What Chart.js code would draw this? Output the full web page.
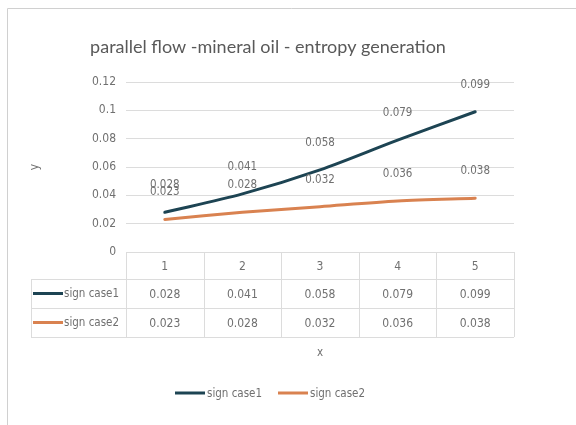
<!DOCTYPE html>
<html>
<head>
<meta charset="utf-8">
<script src="https://cdn.jsdelivr.net/npm/chart.js@4/dist/chart.umd.min.js"></script>
<style>
  html, body { margin: 0; padding: 0; background: #fff; }
  #wrap { width: 576px; height: 425px; position: relative; }
</style>
</head>
<body>
<div id="wrap"><canvas id="c" width="576" height="425"></canvas></div>
<script>
// Entropy generation for parallel flow with mineral oil
const categories = ['1', '2', '3', '4', '5'];
const seriesNames = ['sign case1', 'sign case2'];
const case1 = [0.028, 0.041, 0.058, 0.079, 0.099];
const case2 = [0.023, 0.028, 0.032, 0.036, 0.038];
const yTicks = [0, 0.02, 0.04, 0.06, 0.08, 0.1, 0.12];

const titleText = 'parallel flow -mineral oil - entropy generation';
const colors = ['#1d4453', '#d98250'];
const textColor = '#707070';
const gridColor = '#dcdcdc';
const narrow = '"DejaVu Sans Condensed", "Liberation Sans Narrow", sans-serif';

// Title, data labels, data table and legend drawn around the plot area
const decorations = {
  id: 'decorations',
  afterDatasetsDraw(chart) {
    const ctx = chart.ctx;
    const area = chart.chartArea;
    const xs = chart.scales.x;
    ctx.save();

    // title
    ctx.fillStyle = '#595959';
    ctx.font = '18px Lato, "Open Sans", sans-serif';
    ctx.textAlign = 'center';
    ctx.textBaseline = 'middle';
    ctx.fillText(titleText, 268, 47);

    // value labels above each point
    ctx.font = '11.5px ' + narrow;
    ctx.fillStyle = textColor;
    chart.data.datasets.forEach((ds, di) => {
      const meta = chart.getDatasetMeta(di);
      meta.data.forEach((pt, i) => {
        ctx.fillText(String(ds.data[i]), pt.x, pt.y - 27);
      });
    });

    // data table
    const colW = (area.right - area.left) / categories.length;
    const leftEdge = 31;
    const rowY = [area.bottom, area.bottom + 27, area.bottom + 56, area.bottom + 85];
    ctx.strokeStyle = gridColor;
    ctx.lineWidth = 1;
    ctx.beginPath();
    ctx.moveTo(area.left, rowY[0] + 0.5); ctx.lineTo(area.right, rowY[0] + 0.5);
    for (let r = 1; r < rowY.length; r++) {
      ctx.moveTo(leftEdge, rowY[r] + 0.5); ctx.lineTo(area.right, rowY[r] + 0.5);
    }
    for (let c = 0; c <= categories.length; c++) {
      const x = Math.round(area.left + c * colW) + 0.5;
      ctx.moveTo(x, rowY[0]); ctx.lineTo(x, rowY[3]);
    }
    ctx.moveTo(leftEdge + 0.5, rowY[1]); ctx.lineTo(leftEdge + 0.5, rowY[3]);
    ctx.stroke();

    ctx.font = '12px ' + narrow;
    ctx.fillStyle = textColor;
    ctx.textAlign = 'center';
    categories.forEach((cat, i) => {
      const cx = xs.getPixelForValue(i);
      ctx.fillText(cat, cx, (rowY[0] + rowY[1]) / 2 + 1);
      chart.data.datasets.forEach((ds, di) => {
        ctx.fillText(String(ds.data[i]), cx, (rowY[di + 1] + rowY[di + 2]) / 2 + 1);
      });
    });
    ctx.font = '11.5px ' + narrow;
    chart.data.datasets.forEach((ds, di) => {
      const cy = (rowY[di + 1] + rowY[di + 2]) / 2;
      ctx.strokeStyle = colors[di];
      ctx.lineWidth = 3;
      ctx.beginPath(); ctx.moveTo(33, cy); ctx.lineTo(63, cy); ctx.stroke();
      ctx.textAlign = 'left';
      ctx.fillText(ds.label, 64, cy + 1);
    });

    // x axis title
    ctx.textAlign = 'center';
    ctx.fillText('x', 320, 353);

    // legend
    const legendX = [175, 278];
    chart.data.datasets.forEach((ds, di) => {
      ctx.strokeStyle = colors[di];
      ctx.lineWidth = 3;
      ctx.beginPath(); ctx.moveTo(legendX[di], 393); ctx.lineTo(legendX[di] + 30, 393); ctx.stroke();
      ctx.textAlign = 'left';
      ctx.fillStyle = textColor;
      ctx.fillText(ds.label, legendX[di] + 32, 394);
    });

    // chart frame
    ctx.strokeStyle = '#d0d0d0';
    ctx.lineWidth = 1;
    ctx.beginPath();
    ctx.moveTo(7.5, 425); ctx.lineTo(7.5, 8.5); ctx.lineTo(576, 8.5);
    ctx.stroke();
    ctx.restore();
  }
};

new Chart(document.getElementById('c'), {
  type: 'line',
  data: {
    labels: categories,
    datasets: [
      { label: seriesNames[0], data: case1, borderColor: colors[0], backgroundColor: colors[0] },
      { label: seriesNames[1], data: case2, borderColor: colors[1], backgroundColor: colors[1] }
    ]
  },
  options: {
    responsive: false,
    animation: false,
    devicePixelRatio: 1,
    layout: { padding: { left: 28, right: 62, top: 82, bottom: 173 } },
    elements: {
      line: { borderWidth: 3, tension: 0.3, borderCapStyle: 'round' },
      point: { radius: 0, hoverRadius: 0 }
    },
    plugins: { legend: { display: false }, title: { display: false }, tooltip: { enabled: false } },
    scales: {
      x: { type: 'category', offset: true, display: false },
      y: {
        min: 0, max: 0.12,
        afterBuildTicks: (s) => { s.ticks = yTicks.map(v => ({ value: v })); },
        afterFit: (s) => { s.width = 98; },
        border: { display: false },
        grid: { color: gridColor, drawTicks: false, lineWidth: 1 },
        ticks: { color: textColor, padding: 10, font: { family: narrow, size: 12 },
                 callback: (v) => String(v) },
        title: { display: true, text: 'y', color: textColor, padding: 0,
                 font: { family: narrow, size: 12 } }
      }
    }
  },
  plugins: [decorations]
});
</script>
</body>
</html>
